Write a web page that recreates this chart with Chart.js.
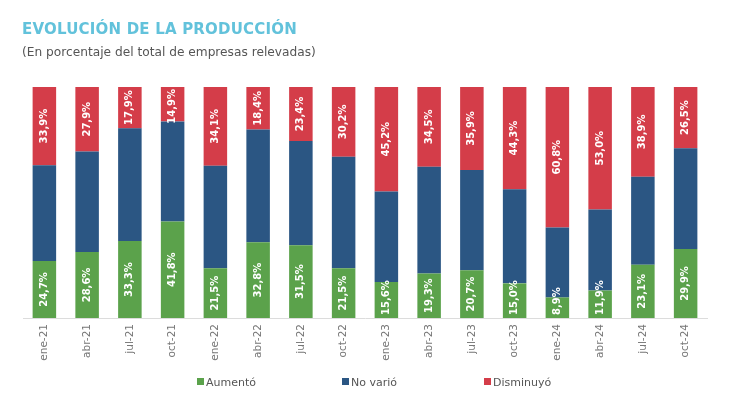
<!DOCTYPE html>
<html>
<head>
<meta charset="utf-8">
<script src="https://cdn.jsdelivr.net/npm/chart.js@4.4.1/dist/chart.umd.min.js"></script>
<style>
  html, body { margin: 0; padding: 0; background: #fff; }
  #wrap { position: relative; width: 730px; height: 419px; font-family: "DejaVu Sans", Verdana, sans-serif; }
  #title { position: absolute; left: 22px; top: 20px; font-size: 15px; font-weight: bold; color: #62c2db; letter-spacing: 0.2px; }
  #subtitle { position: absolute; left: 22px; top: 45px; font-size: 12.2px; color: #555; }
  #legend { position: absolute; top: 376px; left: 0; width: 730px; height: 14px; font-size: 11px; color: #555; }
  #legend span.item { position: absolute; white-space: nowrap; }
  #legend i { display: inline-block; width: 7px; height: 7px; margin-right: 2px; vertical-align: 1px; }
  canvas { position: absolute; left: 0; top: 0; }
</style>
</head>
<body>
<div id="wrap">
  <canvas id="chart" width="730" height="419"></canvas>
  <div id="title">EVOLUCIÓN DE LA PRODUCCIÓN</div>
  <div id="subtitle">(En porcentaje del total de empresas relevadas)</div>
  <div id="legend"></div>
</div>
<script>
const labels = ['ene-21', 'abr-21', 'jul-21', 'oct-21', 'ene-22', 'abr-22', 'jul-22', 'oct-22',
  'ene-23', 'abr-23', 'jul-23', 'oct-23', 'ene-24', 'abr-24', 'jul-24', 'oct-24'];
const aumento = [24.7, 28.6, 33.3, 41.8, 21.5, 32.8, 31.5, 21.5, 15.6, 19.3, 20.7, 15.0, 8.9, 11.9, 23.1, 29.9];
const noVario = [41.4, 43.5, 48.8, 43.3, 44.4, 48.8, 45.1, 48.3, 39.2, 46.2, 43.4, 40.7, 30.3, 35.1, 38.0, 43.6];
const disminuyo = [33.9, 27.9, 17.9, 14.9, 34.1, 18.4, 23.4, 30.2, 45.2, 34.5, 35.9, 44.3, 60.8, 53.0, 38.9, 26.5];

const GREEN = '#5ba24b';
const BLUE = '#2b5683';
const RED = '#d43d49';

// draws the rotated white % labels inside green and red segments
const barLabels = {
  id: 'barLabels',
  afterDatasetsDraw(chart) {
    const ctx = chart.ctx;
    ctx.save();
    ctx.font = 'bold 10px "DejaVu Sans", Verdana, sans-serif';
    ctx.fillStyle = '#fff';
    ctx.textAlign = 'center';
    ctx.textBaseline = 'middle';
    chart.data.datasets.forEach((ds, di) => {
      if (!ds.showValues) return;
      chart.getDatasetMeta(di).data.forEach((bar, i) => {
        const txt = ds.data[i].toFixed(1).replace('.', ',') + '%';
        const top = Math.min(bar.y, bar.base);
        const bottom = Math.max(bar.y, bar.base);
        const w = ctx.measureText(txt).width;
        let cy = (top + bottom) / 2;
        if (w + 4 > bottom - top) cy = ds.anchorBottom ? bottom - 3 - w / 2 : top + 2 + w / 2;
        ctx.save();
        ctx.translate(bar.x, cy);
        ctx.rotate(-Math.PI / 2);
        ctx.fillText(txt, 0, 0);
        ctx.restore();
      });
    });
    ctx.restore();
  }
};

const chart = new Chart(document.getElementById('chart'), {
  type: 'bar',
  data: {
    labels: labels,
    datasets: [
      { label: 'Aumentó', data: aumento, backgroundColor: GREEN, showValues: true, anchorBottom: true },
      { label: 'No varió', data: noVario, backgroundColor: BLUE },
      { label: 'Disminuyó', data: disminuyo, backgroundColor: RED, showValues: true }
    ]
  },
  options: {
    responsive: false,
    animation: false,
    categoryPercentage: 1,
    barPercentage: 0.55,
    layout: { padding: { top: 87, left: 23, right: 23, bottom: 0 } },
    plugins: { legend: { display: false }, tooltip: { enabled: false } },
    scales: {
      x: {
        stacked: true,
        grid: { display: false, drawTicks: false },
        border: { color: '#dcdcdc', width: 1 },
        ticks: { color: '#777', font: { family: '"DejaVu Sans", Verdana, sans-serif', size: 10.5 }, minRotation: 90, maxRotation: 90, padding: 6, autoSkip: false },
        afterFit: s => { s.height = 101; }
      },
      y: { stacked: true, display: false, min: 0, max: 100 }
    }
  },
  plugins: [barLabels]
});

// legend in HTML so the wide spacing can be matched
const legendX = [197, 342, 484];
document.getElementById('legend').innerHTML = chart.data.datasets.map((ds, i) =>
  `<span class="item" style="left:${legendX[i]}px"><i style="background:${ds.backgroundColor}"></i>${ds.label}</span>`
).join('');
</script>
</body>
</html>
